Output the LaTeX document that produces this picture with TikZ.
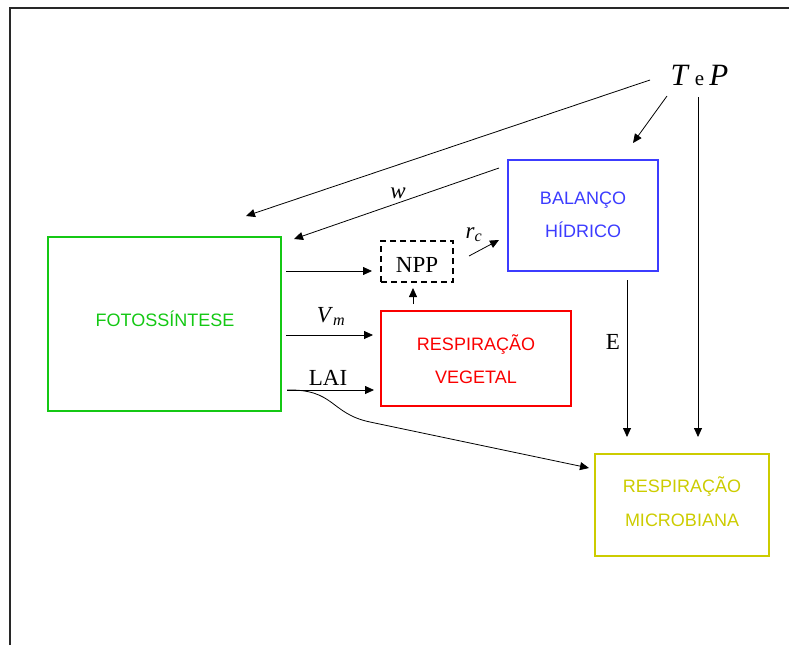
\documentclass[tikz,border=0pt]{standalone}
\usepackage{fontspec}
\setmainfont{Liberation Serif}
\newfontfamily\arialf{Liberation Sans}
\usetikzlibrary{arrows.meta}
\definecolor{cgreen}{RGB}{20,200,20}
\definecolor{cblue}{RGB}{60,60,255}
\definecolor{cred}{RGB}{250,0,0}
\definecolor{cyel}{RGB}{204,204,0}
\definecolor{frame}{RGB}{40,40,40}
\begin{document}
\begin{tikzpicture}[x=1pt,y=-1pt,
  box/.style={draw, line width=1.5pt, inner sep=0pt},
  boxtxt/.style={anchor=base, inner sep=0pt, font=\arialf\fontsize{18}{18}\selectfont},
  conn/.style={line width=0.8pt, -{Triangle[length=9pt,width=8pt]}},
  lab/.style={anchor=base, inner sep=0pt, font=\fontsize{23}{23}\selectfont}]
\useasboundingbox (0,0) rectangle (789,645);
\draw[line width=2pt, frame] (10,645) -- (10,8) -- (789,8);

\node[box, cgreen, minimum width=233pt, minimum height=174pt] (foto) at (164.5,324) {};
\node[boxtxt, cgreen] (fototxt) at (165,326) {FOTOSSÍNTESE};
\node[box, cblue, minimum width=150pt, minimum height=111pt] (bal) at (583,215.5) {};
\node[boxtxt, cblue] (baltxt1) at (583,204) {BALANÇO};
\node[boxtxt, cblue] (baltxt2) at (583,237) {HÍDRICO};
\node[draw, line width=2pt, dash pattern=on 6pt off 4pt, minimum width=72pt, minimum height=41pt, inner sep=0pt] (npp) at (417,261.5) {};
\node[lab] (npptxt) at (417,272) {NPP};
\node[box, cred, minimum width=190pt, minimum height=95pt] (rv) at (476,358.5) {};
\node[boxtxt, cred] (rvtxt1) at (476,350) {RESPIRAÇÃO};
\node[boxtxt, cred] (rvtxt2) at (476,383) {VEGETAL};
\node[box, cyel, minimum width=174pt, minimum height=102pt] (rm) at (682,505) {};
\node[boxtxt, cyel] (rmtxt1) at (682,492) {RESPIRAÇÃO};
\node[boxtxt, cyel] (rmtxt2) at (682,526) {MICROBIANA};

\node[anchor=base, inner sep=0pt] (tp) at (699.5,85) {\fontsize{31}{31}\selectfont\textit{T}\,{\fontsize{21}{21}\selectfont e}\,\textit{P}};

\node[lab] (w) at (398,198) {\textit{w}};
\node[lab] (rc) at (474,238) {\textit{r}\textsubscript{\textit{c}}};
\node[lab] (vm) at (331,322) {\textit{V}\textsubscript{\textit{m}}};
\node[lab] (lai) at (328,385) {LAI};
\node[lab] (e) at (613,349) {E};

\coordinate (t1) at (650,80);
\coordinate (t1e) at (246,216);
\coordinate (t2) at (667,96);
\coordinate (t2e) at (633,143);
\coordinate (t3) at (698,97);
\coordinate (t3e) at (698,437);
\coordinate (ws) at (499,168);
\coordinate (we) at (294,239);
\coordinate (n1) at (286,271);
\coordinate (n1e) at (372,271);
\coordinate (rs) at (469,256);
\coordinate (re) at (499,240);
\coordinate (us) at (413,304);
\coordinate (ue) at (413,288);
\coordinate (vs) at (286,335);
\coordinate (ve) at (373,335);
\coordinate (ls) at (287,390);
\coordinate (le) at (374,390);
\coordinate (cm) at (370,422);
\coordinate (ce) at (589,468);
\coordinate (es) at (627,280);
\coordinate (ee) at (627,437);

\draw[conn] (t1) -- (t1e);
\draw[conn] (t2) -- (t2e);
\draw[conn] (t3) -- (t3e);
\draw[conn] (ws) -- (we);
\draw[conn] (n1) -- (n1e);
\draw[conn] (rs) -- (re);
\draw[conn] (us) -- (ue);
\draw[conn] (vs) -- (ve);
\draw[conn] (ls) -- (le);
\draw[conn] (ls) .. controls (335,389) and (330,413.6) .. (cm) -- (ce);
\draw[conn] (es) -- (ee);
\end{tikzpicture}
\end{document}
